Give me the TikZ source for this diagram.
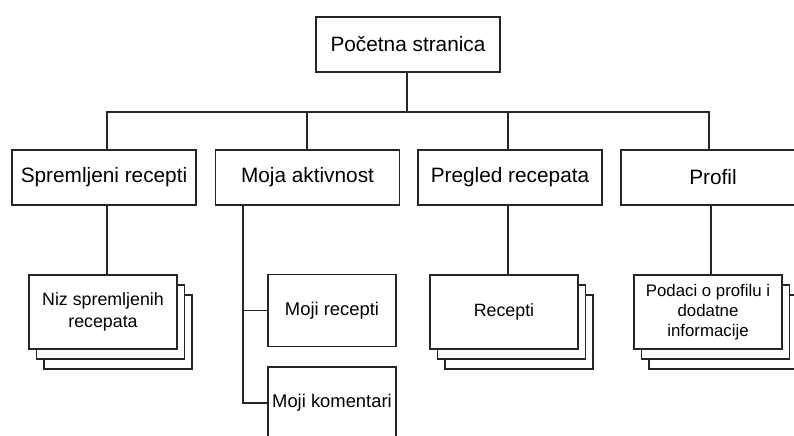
\documentclass[tikz,border=0pt]{standalone}
\usepackage{fontspec}
\setmainfont{Liberation Sans}
\usepackage{tikz}
\usetikzlibrary{shadows}

\tikzset{
	box/.style={draw=black!85, line width=0.6pt, fill=white, align=center, inner sep=1pt,
		minimum width=92pt, minimum height=27.5pt, font=\fontsize{10.4}{12.5}\selectfont},
	leaf/.style={box, minimum width=64pt, minimum height=36pt, font=\fontsize{9.2}{11}\selectfont},
	stack/.style={box, minimum width=74pt, minimum height=37pt, font=\fontsize{8.9}{10.8}\selectfont,
		double copy shadow={shadow xshift=3.75pt, shadow yshift=-5pt, draw=black!85, fill=white, line width=0.6pt}},
	link/.style={draw=black!85, line width=0.6pt}
}

\begin{document}
\begin{tikzpicture}[x=0.5pt, y=-0.5pt]
			\useasboundingbox (0,0) rectangle (794,435);
			\clip (0,0) rectangle (794,435);
			% draw node
			\node[box] (home) at (408,44.5) {Početna stranica};
			\node[box] (spremljeni) at (104,177.5) {Spremljeni recepti};
			\node[box] (aktivnost) at (307.5,177.5) {Moja aktivnost};
			\node[box] (pregled) at (510,177.5) {Pregled recepata};
			\node[box] (profil) at (713,177.5) {Profil};
			
			\node[stack] (niz) at (103,312) {Niz spremljenih\\recepata};
			\node[stack] (recepti) at (504,312) {Recepti};
			\node[stack, font=\fontsize{8.4}{10}\selectfont] (podaci) at (708,312) {Podaci o profilu i\\dodatne\\informacije};
			\node[leaf] (mojirecepti) at (332,310.5) {Moji recepti};
			\node[leaf] (mojikomentari) at (332,403) {Moji komentari};
			
			% bus
			\coordinate (b0) at (407,112);
			\coordinate (b1) at (107,112);
			\coordinate (b2) at (307,112);
			\coordinate (b3) at (508,112);
			\coordinate (b4) at (709,112);
			\coordinate (a1) at (243,205);
			\draw[link] (b0 |- home.south) -- (b0);
			\draw[link] (b1 |- spremljeni.north) -- (b1) -- (b4) -- (b4 |- profil.north);
			\draw[link] (b2) -- (b2 |- aktivnost.north);
			\draw[link] (b3) -- (b3 |- pregled.north);
			
			% children
			\draw[link] (b1 |- spremljeni.south) -- (b1 |- niz.north);
			\draw[link] (b3 |- pregled.south) -- (b3 |- recepti.north);
			\draw[link] ([xshift=1pt]profil.south -| b4) -- ([xshift=1pt]podaci.north -| b4);
			\draw[link] (a1) -- (a1 |- mojikomentari.west) -- (mojikomentari.west);
			\draw[link] (a1 |- mojirecepti.west) -- (mojirecepti.west);
			
		\end{tikzpicture}
\end{document}
